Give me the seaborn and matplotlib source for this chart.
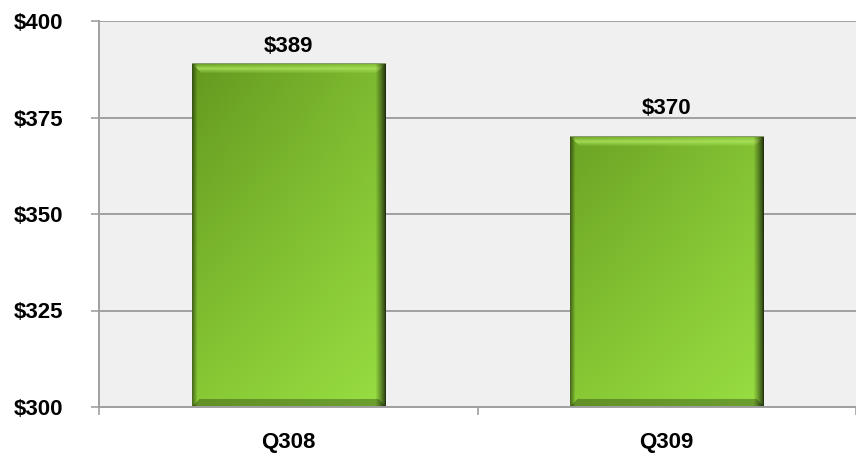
import numpy as np
import pandas as pd
import matplotlib
matplotlib.use("Agg")
import matplotlib.pyplot as plt
import seaborn as sns

# ---- data ----
categories = ["Q308", "Q309"]
values = [389, 370]
value_labels = ["$389", "$370"]
ytick_values = [300, 325, 350, 375, 400]
ytick_labels = ["$300", "$325", "$350", "$375", "$400"]

# ---- style ----
label_offsets_px = [6, 18]
W, H, DPI = 856, 455, 100
FS = 16

sns.set_theme(style="white")
plt.rcParams["font.family"] = ["Liberation Sans", "DejaVu Sans"]

fig = plt.figure(figsize=(W / DPI, H / DPI), dpi=DPI)
fig.patch.set_facecolor("white")
left, right, top, bottom = 99, 856, 21, 407
ax = fig.add_axes([left / W, 1 - bottom / H, (right - left) / W, (bottom - top) / H])
ax.set_facecolor("#f0f0f0")

df = pd.DataFrame({"cat": categories, "val": values})
sns.barplot(data=df, x="cat", y="val", ax=ax, width=0.51, color="#7ab32e",
            edgecolor="none", linewidth=0, zorder=3)

ax.set_xlim(-0.5, 1.5)
ax.set_ylim(ytick_values[0], ytick_values[-1])

for v in ytick_values:
    ax.axhline(v, color="#a0a0a0", lw=1.4, zorder=1)

fig.canvas.draw()

def rgb(c):
    return np.array(matplotlib.colors.to_rgb(c))

ybase = ax.get_ylim()[0]
for p in ax.patches:
    x0, w = p.get_x(), p.get_width()
    y0 = max(p.get_y(), ybase)
    y1 = p.get_y() + p.get_height()
    (px0, py0), (px1, py1) = ax.transData.transform([(x0, y0), (x0 + w, y1)])
    nx, ny = max(int(round(px1 - px0)), 2), max(int(round(py1 - py0)), 2)
    X = np.linspace(0, 1, nx)[None, :, None]
    ref_h = 347.0
    Y = np.clip((np.arange(ny) + (ref_h - ny)) / ref_h, 0, 1)[:, None, None]  # 0 = top
    tl, tr, bl, br = rgb("#64981f"), rgb("#7eba30"), rgb("#88c935"), rgb("#98de42")
    img = tl * (1 - X) * (1 - Y) + tr * X * (1 - Y) + bl * (1 - X) * Y + br * X * Y
    img = np.broadcast_to(img, (ny, nx, 3)).copy()
    jj = np.arange(nx)[None, :]
    ii = np.arange(ny)[:, None]
    b = 10
    top_mask = (ii < b) & (jj >= ii) & (jj <= nx - 1 - ii)
    tb = np.clip(1 - np.abs(ii / b - 0.5) * 2.0, 0, 1)
    light = rgb("#aee65e")
    img = np.where(top_mask[..., None], img * (1 - 0.8 * tb[..., None]) + light * 0.8 * tb[..., None], img)
    bb = 8
    bot_mask = (ii >= ny - bb) & (jj >= (ny - 1 - ii)) & (jj <= nx - 1 - (ny - 1 - ii))
    img = np.where(bot_mask[..., None], img * 0.72, img)
    d = nx - 1 - jj
    rfac = np.where(d < 10, 0.25 + 0.75 * (d / 10) ** 0.8, 1.0)
    img = img * np.broadcast_to(rfac, (ny, nx))[..., None]
    lfac = np.where(jj < 5, 0.55 + 0.45 * jj / 5, 1.0)
    img = img * np.broadcast_to(lfac, (ny, nx))[..., None]
    img[0, :, :] = rgb("#8a9c70")
    ax.imshow(np.clip(img, 0, 1), extent=(x0, x0 + w, y0, y1), aspect="auto",
              zorder=4, interpolation="bilinear", origin="upper")

ax.set_xlim(-0.5, 1.5)
ax.set_ylim(ytick_values[0], ytick_values[-1])

for i, (v, lab) in enumerate(zip(values, value_labels)):
    ax.annotate(lab, (i, v), xytext=(0, label_offsets_px[i] * 72 / DPI), textcoords="offset points",
                ha="center", va="bottom", fontsize=FS, fontweight="bold", color="black", zorder=6)

for s in ["top", "right"]:
    ax.spines[s].set_visible(False)
for s in ["left", "bottom"]:
    ax.spines[s].set_visible(True)
    ax.spines[s].set_color("#a0a0a0")
    ax.spines[s].set_linewidth(1.4)
    ax.spines[s].set_zorder(7)

ax.set_yticks(ytick_values)
ax.set_yticklabels(ytick_labels, fontsize=FS, fontweight="bold", color="black")
ax.tick_params(axis="y", direction="out", length=6, width=1.2, color="#a0a0a0", pad=20, left=True)

ax.set_xticks([0, 1])
ax.set_xticklabels(categories, fontsize=FS, fontweight="bold", color="black")
ax.tick_params(axis="x", which="major", length=0, pad=18)
ax.set_xticks([-0.5, 0.5, 1.5], minor=True)
ax.tick_params(axis="x", which="minor", direction="out", length=6, width=1.2, color="#a0a0a0", bottom=True)
ax.set_xlabel("")
ax.set_ylabel("")

fig.savefig("out.png", dpi=DPI, facecolor="white")
